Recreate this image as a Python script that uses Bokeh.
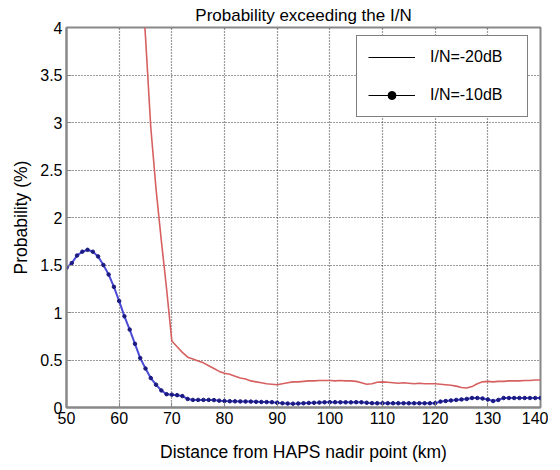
from bokeh.plotting import figure
from bokeh.models import FixedTicker, Legend, LegendItem, Range1d
from bokeh.embed import file_html
from bokeh.resources import INLINE

# ---- data ----
dist_blue = list(range(50, 141))
prob_blue = [1.47, 1.52, 1.60, 1.64, 1.66, 1.64, 1.59, 1.50, 1.40, 1.27,
             1.12, 0.96, 0.82, 0.67, 0.52, 0.41, 0.31, 0.24, 0.18, 0.14,
             0.135, 0.13, 0.12, 0.09, 0.08, 0.08, 0.08, 0.08, 0.078, 0.072,
             0.068, 0.066, 0.065, 0.064, 0.063, 0.062, 0.06, 0.058, 0.057, 0.056,
             0.05, 0.045, 0.042, 0.04, 0.042, 0.045, 0.048, 0.05, 0.052, 0.055,
             0.056, 0.056, 0.055, 0.055, 0.054, 0.056, 0.055, 0.05, 0.046, 0.045,
             0.045, 0.045, 0.045, 0.045, 0.045, 0.045, 0.045, 0.045, 0.045, 0.045,
             0.045, 0.062, 0.068, 0.074, 0.08, 0.085, 0.09, 0.1, 0.1, 0.095,
             0.085, 0.068, 0.08, 0.1, 0.1, 0.1, 0.1, 0.1, 0.1, 0.1, 0.1]

dist_red = list(range(64, 141))
prob_red = [4.75, 3.9, 2.95, 2.3, 1.76, 1.25, 0.70, 0.64, 0.58, 0.53,
            0.51, 0.49, 0.47, 0.44, 0.41, 0.38, 0.36, 0.35, 0.33, 0.31,
            0.30, 0.28, 0.27, 0.26, 0.25, 0.245, 0.24, 0.25, 0.26, 0.27,
            0.27, 0.275, 0.28, 0.28, 0.285, 0.285, 0.285, 0.28, 0.285, 0.28,
            0.28, 0.275, 0.26, 0.245, 0.25, 0.265, 0.27, 0.265, 0.26, 0.255,
            0.26, 0.255, 0.25, 0.255, 0.25, 0.25, 0.25, 0.245, 0.24, 0.235,
            0.225, 0.21, 0.205, 0.22, 0.25, 0.27, 0.275, 0.27, 0.275, 0.275,
            0.28, 0.28, 0.28, 0.285, 0.285, 0.29, 0.29]

x_ticks = [50, 60, 70, 80, 90, 100, 110, 120, 130, 140]
x_tick_labels = ["50", "60", "70", "80", "90", "100", "110", "120", "130", "140"]
y_ticks = [0, 0.5, 1, 1.5, 2, 2.5, 3, 3.5, 4]
y_tick_labels = ["0", "0.5", "1", "1.5", "2", "2.5", "3", "3.5", "4"]

legend_labels = ["I/N=-20dB", "I/N=-10dB"]

FONT = "Liberation Sans"
NAN = float("nan")

p = figure(frame_width=474, frame_height=380,
           x_range=Range1d(50, 140), y_range=Range1d(0, 4),
           output_backend="svg", toolbar_location=None,
           min_border_left=66, min_border_right=8, min_border_top=27,
           min_border_bottom=50, background_fill_color="white",
           border_fill_color="white")

p.title.text = "Probability exceeding the I/N"
p.title.align = "center"
p.title.text_font = FONT
p.title.text_font_size = "17px"
p.title.text_font_style = "normal"
p.title.text_color = "black"
p.title.standoff = 5

p.xaxis.axis_label = "Distance from HAPS nadir point (km)"
p.yaxis.axis_label = "Probability (%)"
p.xaxis.ticker = FixedTicker(ticks=x_ticks)
p.yaxis.ticker = FixedTicker(ticks=y_ticks)
p.xaxis.major_label_overrides = {t: l for t, l in zip(x_ticks, x_tick_labels)}
p.yaxis.major_label_overrides = {t: l for t, l in zip(y_ticks, y_tick_labels)}

for ax in (p.xaxis, p.yaxis):
    ax.axis_label_text_font = FONT
    ax.axis_label_text_font_size = "17.5px"
    ax.axis_label_text_font_style = "normal"
    ax.axis_label_text_color = "black"
    ax.major_label_text_font = FONT
    ax.major_label_text_font_size = "16px"
    ax.major_label_text_color = "black"
    ax.axis_line_color = "#888888"
    ax.axis_line_width = 2
    ax.major_tick_in = 5
    ax.major_tick_out = 0
    ax.major_tick_line_color = "#888888"
    ax.minor_tick_line_color = None
    ax.major_label_standoff = 4
p.xaxis.axis_label_standoff = 15
p.yaxis.axis_label_standoff = 6

p.outline_line_color = "#888888"
p.outline_line_width = 2

for g in (p.xgrid, p.ygrid):
    g.grid_line_color = "#222222"
    g.grid_line_dash = "1 2"
    g.grid_line_width = 1.2
    g.grid_line_alpha = 0.9

p.line(dist_red, prob_red, line_color="#d66060", line_width=1.6)
p.line(dist_blue, prob_blue, line_color="#4b4bd8", line_width=2)
p.scatter(dist_blue, prob_blue, size=3.5, fill_color="#1a1a80",
          line_color="#1a1a80")

# legend proxies (black, as in the reference), not visible in the frame
r1 = p.line([NAN], [NAN], line_color="black", line_width=1)
r2 = p.line([NAN], [NAN], line_color="black", line_width=1)
r3 = p.scatter([NAN], [NAN], size=7, fill_color="black", line_color="black")

legend = Legend(items=[LegendItem(label=legend_labels[0], renderers=[r1]),
                       LegendItem(label=legend_labels[1], renderers=[r2, r3])],
                location=(290, 290), orientation="vertical")
legend.glyph_width = 47
legend.glyph_height = 20
legend.label_height = 20
legend.label_standoff = 15
legend.spacing = 18
legend.padding = 11
legend.margin = 0
legend.label_text_font = FONT
legend.label_text_font_size = "16px"
legend.label_text_color = "black"
legend.border_line_color = "black"
legend.border_line_width = 1.5
legend.background_fill_color = "white"
legend.background_fill_alpha = 1
legend.label_width = 86
p.add_layout(legend, "center")

open("out.html", "w").write(file_html(p, INLINE))
